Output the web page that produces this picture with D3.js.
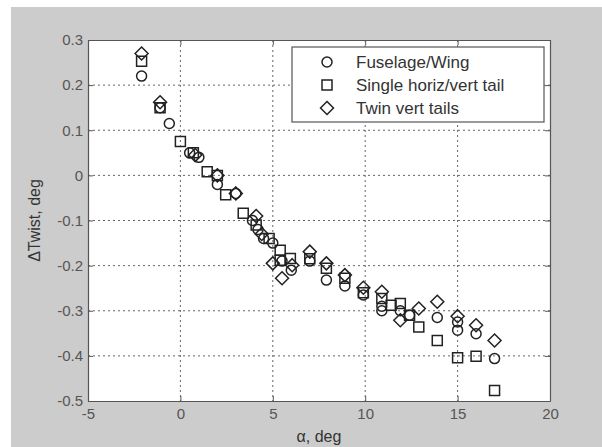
<!DOCTYPE html>
<html><head><meta charset="utf-8">
<script src="https://cdn.jsdelivr.net/npm/d3@7"></script>
<style>body{margin:0;background:#fff}svg{display:block}</style>
</head><body><svg id="c" width="602" height="447"></svg>
<script>
const xTicks = [-5, 0, 5, 10, 15, 20];
const xTickLabels = ["-5", "0", "5", "10", "15", "20"];
const yTicks = [0.3, 0.2, 0.1, 0, -0.1, -0.2, -0.3, -0.4, -0.5];
const yTickLabels = ["0.3", "0.2", "0.1", "0", "-0.1", "-0.2", "-0.3", "-0.4", "-0.5"];
const seriesNames = ["Fuselage/Wing", "Single horiz/vert tail", "Twin vert tails"];

const fuselageAlpha = [-2.1, -1.1, -0.6, 0.5, 1.0, 2.0, 3.0, 3.9, 4.2, 4.5, 5.0, 5.5, 6.0, 7.0, 7.9, 8.9, 9.9, 10.9, 10.9, 11.9, 12.4, 13.9, 15.0, 15.0, 16.0, 17.0];
const fuselageTwist = [0.22, 0.15, 0.115, 0.05, 0.04, -0.02, -0.04, -0.10, -0.12, -0.14, -0.15, -0.19, -0.21, -0.19, -0.232, -0.245, -0.265, -0.29, -0.30, -0.30, -0.31, -0.315, -0.325, -0.343, -0.351, -0.406];

const singleAlpha = [-2.1, -1.1, 0.0, 0.7, 1.45, 2.0, 2.45, 3.4, 4.1, 4.8, 5.4, 5.4, 5.95, 7.0, 7.9, 8.9, 9.9, 10.9, 11.4, 11.9, 12.4, 12.9, 13.9, 15.0, 16.0, 17.0];
const singleTwist = [0.253, 0.15, 0.075, 0.05, 0.008, 0.0, -0.043, -0.084, -0.11, -0.14, -0.166, -0.188, -0.184, -0.185, -0.206, -0.228, -0.26, -0.273, -0.288, -0.284, -0.31, -0.336, -0.366, -0.404, -0.401, -0.477];

const twinAlpha = [-2.1, -1.1, 0.8, 2.0, 3.0, 4.1, 4.4, 5.0, 5.5, 6.05, 7.0, 7.9, 8.9, 9.9, 10.9, 11.9, 12.9, 13.9, 15.0, 16.0, 17.0];
const twinTwist = [0.27, 0.162, 0.045, 0.0, -0.04, -0.09, -0.13, -0.195, -0.228, -0.199, -0.169, -0.195, -0.221, -0.249, -0.258, -0.321, -0.295, -0.28, -0.312, -0.332, -0.366];

const svg = d3.select("#c");
const W = 602, H = 447;
const L = 88, R = 550, T = 40, B = 401;

// background
svg.append("rect").attr("x", 0).attr("y", 0).attr("width", W).attr("height", H).attr("fill", "#ffffff");
svg.append("rect").attr("x", 11).attr("y", 7).attr("width", W - 11).attr("height", H - 7).attr("fill", "#cccccc");
svg.append("rect").attr("x", L).attr("y", T).attr("width", R - L).attr("height", B - T).attr("fill", "#ffffff");

const x = d3.scaleLinear().domain([-5, 20]).range([L, R]);
const y = d3.scaleLinear().domain([-0.5, 0.3]).range([B, T]);

// grid
const grid = svg.append("g").attr("stroke", "#666").attr("stroke-width", 1).attr("stroke-dasharray", "2,3");
xTicks.slice(1, -1).forEach(t => grid.append("line").attr("x1", x(t)).attr("x2", x(t)).attr("y1", T).attr("y2", B));
yTicks.slice(1, -1).forEach(t => grid.append("line").attr("y1", y(t)).attr("y2", y(t)).attr("x1", L).attr("x2", R));

// axes with inward ticks
const fontFam = "'Liberation Sans', Arial, Helvetica, sans-serif";
const axB = svg.append("g").attr("transform", `translate(0,${B})`)
  .call(d3.axisBottom(x).tickValues(xTicks).tickFormat((d, i) => xTickLabels[i]).tickSizeInner(-5).tickSizeOuter(0).tickPadding(7));
const axT = svg.append("g").attr("transform", `translate(0,${T})`)
  .call(d3.axisTop(x).tickValues(xTicks).tickFormat("").tickSizeInner(-5).tickSizeOuter(0));
const axL = svg.append("g").attr("transform", `translate(${L},0)`)
  .call(d3.axisLeft(y).tickValues(yTicks).tickFormat((d, i) => yTickLabels[i]).tickSizeInner(-5).tickSizeOuter(0).tickPadding(5));
const axR = svg.append("g").attr("transform", `translate(${R},0)`)
  .call(d3.axisRight(y).tickValues(yTicks).tickFormat("").tickSizeInner(-5).tickSizeOuter(0));
[axB, axT, axL, axR].forEach(a => {
  a.selectAll("path.domain").attr("stroke", "#555").attr("stroke-width", 1.2);
  a.selectAll(".tick line").attr("stroke", "#555");
  a.selectAll("text").attr("fill", "#555").style("font-family", fontFam).style("font-size", "15px");
});

// markers
const circlePath = d3.symbol(d3.symbolCircle, Math.PI * 25)();
const squarePath = d3.symbol(d3.symbolSquare, 100)();
const diamondPath = "M0,-6.5L6.5,0L0,6.5L-6.5,0Z";
const shapes = [circlePath, squarePath, diamondPath];
const seriesData = [
  d3.zip(fuselageAlpha, fuselageTwist),
  d3.zip(singleAlpha, singleTwist),
  d3.zip(twinAlpha, twinTwist)
];
seriesData.forEach((data, si) => {
  svg.append("g").selectAll("path").data(data).join("path")
    .attr("d", shapes[si])
    .attr("transform", d => `translate(${x(d[0])},${y(d[1])})`)
    .attr("fill", "none").attr("stroke", "#222").attr("stroke-width", 1.5);
});

// legend
const lg = svg.append("g");
lg.append("rect").attr("x", 292).attr("y", 47).attr("width", 252).attr("height", 75)
  .attr("fill", "#fff").attr("stroke", "#555").attr("stroke-width", 1.2);
seriesNames.forEach((n, i) => {
  const cy = 62 + i * 23;
  lg.append("path").attr("d", shapes[i]).attr("transform", `translate(327,${cy})`)
    .attr("fill", "none").attr("stroke", "#222").attr("stroke-width", 1.5);
  lg.append("text").attr("x", 356).attr("y", cy + 6).text(n)
    .attr("fill", "#333").style("font-family", fontFam).style("font-size", "17px");
});

// axis titles
svg.append("text").attr("x", (L + R) / 2).attr("y", 442).attr("text-anchor", "middle")
  .attr("fill", "#333").style("font-family", fontFam).style("font-size", "16px").text("α, deg");
svg.append("text").attr("transform", `translate(40,${(T + B) / 2}) rotate(-90)`).attr("text-anchor", "middle")
  .attr("fill", "#333").style("font-family", fontFam).style("font-size", "16px").text("ΔTwist, deg");
</script></body></html>
